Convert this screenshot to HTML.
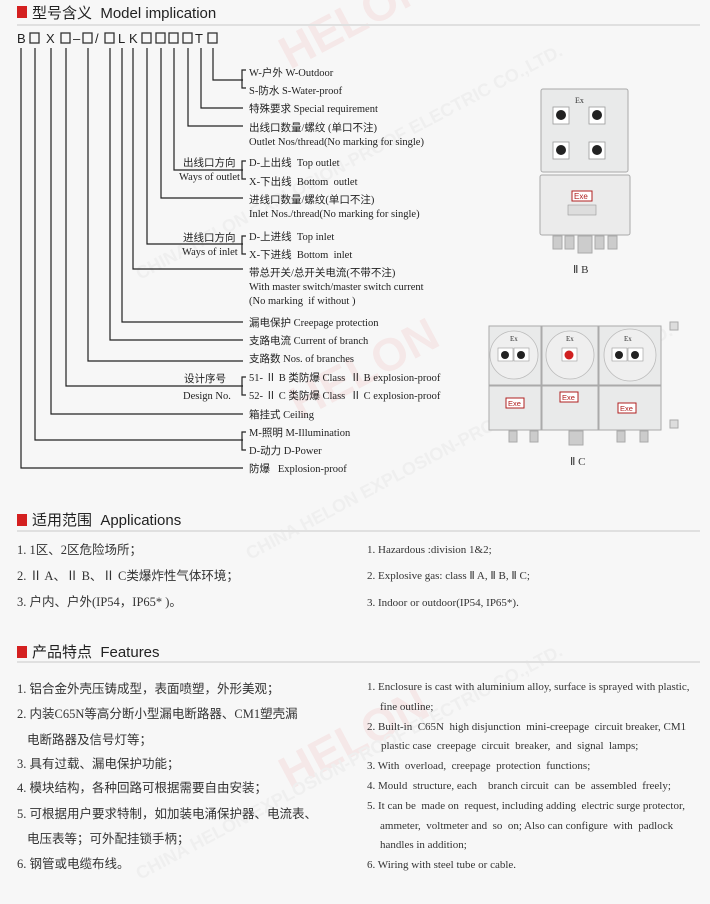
<!DOCTYPE html>
<html><head><meta charset="utf-8"><style>
html,body{margin:0;padding:0;background:#f7f7f7;}
svg{display:block;}
.h{font-family:"Liberation Sans","Noto Sans CJK SC",sans-serif;font-size:15px;fill:#222;}
.c{font-family:"Liberation Sans",sans-serif;font-size:13px;fill:#222;}
.t{font-family:"Liberation Serif","Noto Sans CJK SC",serif;font-size:10.5px;fill:#222;}
.z{font-family:"Liberation Serif","Noto Sans CJK SC",serif;font-size:12.5px;fill:#333;}
.e{font-family:"Liberation Serif",serif;font-size:11px;fill:#333;}
</style></head><body>
<svg width="710" height="904" viewBox="0 0 710 904" xmlns="http://www.w3.org/2000/svg">
<rect width="710" height="904" fill="#f7f7f7"/>
<!-- watermarks -->
<g opacity="0.07" font-family="Liberation Sans,sans-serif" font-weight="bold">
<text x="290" y="70" transform="rotate(-28 290 70)" font-size="46" fill="#e02020">HELON</text>
<text x="140" y="280" transform="rotate(-28 140 280)" font-size="18" fill="#888">CHINA HELON EXPLOSION-PROOF ELECTRIC CO.,LTD.</text>
<text x="300" y="420" transform="rotate(-28 300 420)" font-size="46" fill="#e02020">HELON</text>
<text x="250" y="560" transform="rotate(-28 250 560)" font-size="18" fill="#888">CHINA HELON EXPLOSION-PROOF ELECTRIC CO.,LTD.</text>
<text x="290" y="790" transform="rotate(-28 290 790)" font-size="46" fill="#e02020">HELON</text>
<text x="140" y="880" transform="rotate(-28 140 880)" font-size="18" fill="#888">CHINA HELON EXPLOSION-PROOF ELECTRIC CO.,LTD.</text>
</g>

<!-- headers -->
<rect x="17" y="6" width="10" height="12" fill="#d42020"/>
<text class="h" x="32" y="18">型号含义 &#160;Model implication</text>
<rect x="17" y="24" width="683" height="2" fill="#e0e0e0"/>
<rect x="17" y="514" width="10" height="12" fill="#d42020"/>
<text class="h" x="32" y="525">适用范围 &#160;Applications</text>
<rect x="17" y="530" width="683" height="2" fill="#e0e0e0"/>
<rect x="17" y="646" width="10" height="12" fill="#d42020"/>
<text class="h" x="32" y="657">产品特点 &#160;Features</text>
<rect x="17" y="661" width="683" height="2" fill="#e0e0e0"/>

<!-- code -->
<g class="c">
<text x="17" y="43">B</text><text x="46" y="43">X</text><text x="73" y="43">–</text><text x="95" y="43">/</text><text x="118" y="43">L</text><text x="129" y="43">K</text><text x="195" y="43">T</text>
</g>
<g fill="none" stroke="#333" stroke-width="1.3">
<rect x="30" y="33" width="9" height="10"/><rect x="61" y="33" width="9" height="10"/><rect x="83" y="33" width="9" height="10"/><rect x="105" y="33" width="9" height="10"/>
<rect x="142" y="33" width="9" height="10"/><rect x="156" y="33" width="9" height="10"/><rect x="169" y="33" width="9" height="10"/><rect x="183" y="33" width="9" height="10"/><rect x="208" y="33" width="9" height="10"/>
</g>
<g fill="none" stroke="#222" stroke-width="1.2">
<polyline points="213,48 213,80 243,80"/>
<path d="M246,70 H242 V88 H246"/>
<polyline points="201,48 201,108 243,108"/>
<polyline points="188,48 188,126 243,126"/>
<polyline points="174,48 174,170 243,170"/>
<path d="M246,161 H242 V179 H246"/>
<polyline points="161,48 161,198 243,198"/>
<polyline points="147,48 147,244 243,244"/>
<path d="M246,236 H242 V254 H246"/>
<polyline points="133,48 133,269 243,269"/>
<polyline points="122,48 122,322 243,322"/>
<polyline points="110,48 110,340 243,340"/>
<polyline points="88,48 88,361 243,361"/>
<polyline points="66,48 66,386 243,386"/>
<path d="M246,377 H242 V395 H246"/>
<polyline points="51,48 51,414 243,414"/>
<polyline points="35,48 35,440 243,440"/>
<path d="M246,432 H242 V450 H246"/>
<polyline points="21,48 21,468 243,468"/>
</g>
<g class="t">
<text x="249" y="76">W-户外 W-Outdoor</text>
<text x="249" y="94">S-防水 S-Water-proof</text>
<text x="249" y="112">特殊要求 Special requirement</text>
<text x="249" y="131">出线口数量/螺纹 (单口不注)</text>
<text x="249" y="145">Outlet Nos/thread(No marking for single)</text>
<text x="183" y="166">出线口方向</text>
<text x="179" y="180">Ways of outlet</text>
<text x="249" y="166">D-上出线 &#160;Top outlet</text>
<text x="249" y="185">X-下出线 &#160;Bottom &#160;outlet</text>
<text x="249" y="203">进线口数量/螺纹(单口不注)</text>
<text x="249" y="217">Inlet Nos./thread(No marking for single)</text>
<text x="183" y="241">进线口方向</text>
<text x="182" y="255">Ways of inlet</text>
<text x="249" y="240">D-上进线 &#160;Top inlet</text>
<text x="249" y="258">X-下进线 &#160;Bottom &#160;inlet</text>
<text x="249" y="276">带总开关/总开关电流(不带不注)</text>
<text x="249" y="290">With master switch/master switch current</text>
<text x="249" y="304">(No marking &#160;if without )</text>
<text x="249" y="326">漏电保护 Creepage protection</text>
<text x="249" y="344">支路电流 Current of branch</text>
<text x="249" y="362">支路数 Nos. of branches</text>
<text x="184" y="382">设计序号</text>
<text x="183" y="399">Design No.</text>
<text x="249" y="381">51- Ⅱ B 类防爆 Class &#160;Ⅱ B explosion-proof</text>
<text x="249" y="399">52- Ⅱ C 类防爆 Class &#160;Ⅱ C explosion-proof</text>
<text x="249" y="418">箱挂式 Ceiling</text>
<text x="249" y="436">M-照明 M-Illumination</text>
<text x="249" y="454">D-动力 D-Power</text>
<text x="249" y="472">防爆 &#160; Explosion-proof</text>
</g>

<!-- IIB enclosure -->
<g stroke="#aaa" stroke-width="1" fill="#e9eaea">
<rect x="541" y="89" width="87" height="83" rx="2"/>
<rect x="540" y="175" width="90" height="60" rx="2" fill="#ebebeb"/>
<rect x="553" y="236" width="9" height="13" fill="#ccc"/><rect x="565" y="236" width="9" height="13" fill="#ccc"/>
<rect x="578" y="236" width="14" height="17" fill="#ccc"/><rect x="595" y="236" width="9" height="13" fill="#ccc"/><rect x="608" y="236" width="9" height="13" fill="#ccc"/>
</g>
<g fill="#fff" stroke="#999" stroke-width="0.8">
<rect x="553" y="107" width="16" height="17"/><rect x="589" y="107" width="16" height="17"/>
<rect x="553" y="142" width="16" height="17"/><rect x="589" y="142" width="16" height="17"/>
</g>
<g fill="#222"><circle cx="561" cy="115" r="5"/><circle cx="597" cy="115" r="5"/><circle cx="561" cy="150" r="5"/><circle cx="597" cy="150" r="5"/></g>
<text x="575" y="103" font-family="Liberation Serif,serif" font-size="8" fill="#333">Ex</text>
<rect x="572" y="191" width="20" height="10" fill="#fff" stroke="#b02020"/>
<text x="574" y="199" font-family="Liberation Sans,sans-serif" font-size="8" fill="#b02020">Exe</text>
<rect x="568" y="205" width="28" height="10" fill="#ddd" stroke="#999" stroke-width="0.6"/>
<text x="573" y="273" class="e">Ⅱ B</text>

<!-- IIC enclosure -->
<g stroke="#aaa" stroke-width="1" fill="#e9eaea">
<rect x="489" y="326" width="52" height="59"/><rect x="542" y="326" width="56" height="59"/><rect x="599" y="326" width="62" height="59"/>
<rect x="489" y="386" width="52" height="44"/><rect x="542" y="386" width="56" height="44"/><rect x="599" y="386" width="62" height="44"/>
<rect x="509" y="431" width="8" height="11" fill="#ccc"/><rect x="530" y="431" width="8" height="11" fill="#ccc"/>
<rect x="569" y="431" width="14" height="14" fill="#ccc"/>
<rect x="617" y="431" width="8" height="11" fill="#ccc"/><rect x="640" y="431" width="8" height="11" fill="#ccc"/>
<rect x="670" y="322" width="8" height="8" fill="#ddd"/><rect x="670" y="420" width="8" height="8" fill="#ddd"/>
</g>
<g fill="#efefef" stroke="#bbb" stroke-width="0.8"><circle cx="514" cy="355" r="24"/><circle cx="570" cy="355" r="24"/><circle cx="630" cy="355" r="26"/></g>
<g fill="#fff" stroke="#999" stroke-width="0.6"><rect x="498" y="348" width="15" height="13"/><rect x="514" y="348" width="15" height="13"/><rect x="562" y="348" width="15" height="13"/><rect x="612" y="348" width="15" height="13"/><rect x="628" y="348" width="15" height="13"/></g>
<g fill="#222"><circle cx="505" cy="355" r="4"/><circle cx="521" cy="355" r="4"/><circle cx="619" cy="355" r="4"/><circle cx="635" cy="355" r="4"/></g>
<circle cx="569" cy="355" r="4.5" fill="#d02020"/>
<g font-family="Liberation Serif,serif" font-size="7" fill="#333"><text x="510" y="341">Ex</text><text x="566" y="341">Ex</text><text x="624" y="341">Ex</text></g>
<g fill="#fff" stroke="#b02020"><rect x="506" y="398" width="18" height="10"/><rect x="560" y="392" width="18" height="10"/><rect x="618" y="403" width="18" height="10"/></g>
<g font-family="Liberation Sans,sans-serif" font-size="7.5" fill="#b02020"><text x="508" y="406">Exe</text><text x="562" y="400">Exe</text><text x="620" y="411">Exe</text></g>
<text x="570" y="465" class="e">Ⅱ C</text>

<!-- Applications -->
<g class="z">
<text x="17" y="554">1. 1区、2区危险场所；</text>
<text x="17" y="580">2. Ⅱ A、Ⅱ B、Ⅱ C类爆炸性气体环境；</text>
<text x="17" y="606">3. 户内、户外(IP54，IP65* )。</text>
</g>
<g class="e">
<text x="367" y="553">1. Hazardous :division 1&amp;2;</text>
<text x="367" y="579">2. Explosive gas: class Ⅱ A, Ⅱ B, Ⅱ C;</text>
<text x="367" y="606">3. Indoor or outdoor(IP54, IP65*).</text>
</g>

<!-- Features -->
<g class="z">
<text x="17" y="693">1. 铝合金外壳压铸成型，表面喷塑，外形美观；</text>
<text x="17" y="718">2. 内装C65N等高分断小型漏电断路器、CM1塑壳漏</text>
<text x="27" y="744">电断路器及信号灯等；</text>
<text x="17" y="768">3. 具有过载、漏电保护功能；</text>
<text x="17" y="792">4. 模块结构，各种回路可根据需要自由安装；</text>
<text x="17" y="818">5. 可根据用户要求特制，如加装电涌保护器、电流表、</text>
<text x="27" y="843">电压表等；可外配挂锁手柄；</text>
<text x="17" y="868">6. 钢管或电缆布线。</text>
</g>
<g class="e" font-size="10.5">
<text x="367" y="690">1. Enclosure is cast with aluminium alloy, surface is sprayed with plastic,</text>
<text x="380" y="710">fine outline;</text>
<text x="367" y="730">2. Built-in &#160;C65N &#160;high disjunction &#160;mini-creepage &#160;circuit breaker, CM1</text>
<text x="381" y="749">plastic case &#160;creepage &#160;circuit &#160;breaker, &#160;and &#160;signal &#160;lamps;</text>
<text x="367" y="769">3. With &#160;overload, &#160;creepage &#160;protection &#160;functions;</text>
<text x="367" y="789">4. Mould &#160;structure, each &#160; &#160;branch circuit &#160;can &#160;be &#160;assembled &#160;freely;</text>
<text x="367" y="809">5. It can be &#160;made on &#160;request, including adding &#160;electric surge protector,</text>
<text x="380" y="829">ammeter, &#160;voltmeter and &#160;so &#160;on; Also can configure &#160;with &#160;padlock</text>
<text x="380" y="848">handles in addition;</text>
<text x="367" y="868">6. Wiring with steel tube or cable.</text>
</g>
</svg>
</body></html>
